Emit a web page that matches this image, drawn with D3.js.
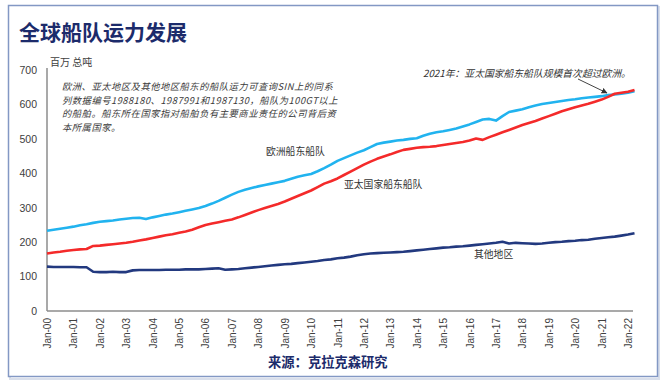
<!DOCTYPE html>
<html>
<head>
<meta charset="utf-8">
<script src="https://cdn.jsdelivr.net/npm/d3@7"></script>
<style>
  body { margin: 0; background: #fff; }
  svg { display: block; font-family: "Liberation Sans", Arial, sans-serif; }
  .cjk { font-family: "Noto Sans CJK SC", "Liberation Sans", sans-serif; }
</style>
</head>
<body>
<div id="chart"></div>
<script>
// quarterly readings, Jan-2000 .. Apr-2022 (million GT)
var startYear = 2000;
var tickYears = d3.range(2000, 2023);

var europe = [
  233, 236, 239, 242,  245, 249, 252, 256,  259, 261, 263, 266,  268, 270, 271, 267,
  272, 276, 280, 283,  287, 291, 295, 299,  305, 312, 320, 329,  338, 346, 352, 357,
  362, 366, 370, 374,  378, 384, 390, 394,  398, 406, 415, 425,  436, 444, 452, 460,
  467, 476, 485, 489,  492, 495, 497, 500,  502, 509, 515, 519,  522, 526, 530, 536,
  542, 549, 556, 558,  553, 566, 578, 582,  586, 592, 597, 601,  604, 607, 610, 613,
  615, 618, 620, 622,  624, 627, 629, 631,  634, 638
];
var asiaPacific = [
  167, 170, 172, 175,  177, 179, 180, 189,  190, 192, 194, 196,  198, 201, 205, 208,
  212, 216, 220, 223,  227, 231, 236, 243,  250, 254, 258, 262,  266, 272, 279, 286,
  293, 299, 305, 311,  318, 326, 334, 342,  350, 360, 370, 377,  385, 395, 405, 415,
  425, 434, 442, 449,  455, 462, 468, 471,  474, 476, 477, 479,  482, 485, 488, 491,
  495, 501, 497, 505,  512, 519, 526, 533,  540, 546, 552, 559,  566, 573, 580, 586,
  592, 597, 602, 608,  614, 622, 631, 634,  637, 642
];
var otherRegions = [
  129, 128, 128, 128,  128, 127, 127, 114,  113, 113, 114, 113,  113, 118, 119, 119,
  119, 119, 120, 120,  120, 121, 121, 121,  122, 123, 124, 120,  121, 122, 124, 126,
  128, 130, 132, 134,  136, 137, 139, 141,  143, 145, 148, 150,  153, 155, 158, 162,
  165, 167, 168, 169,  170, 171, 172, 174,  176, 178, 180, 182,  184, 185, 187, 188,
  190, 192, 194, 196,  198, 201, 196, 198,  197, 196, 195, 196,  198, 200, 201, 203,
  204, 206, 207, 210,  212, 214, 216, 219,  222, 226
];
var yTicks = [0, 100, 200, 300, 400, 500, 600, 700];

var seriesList = [
  {name: "欧洲船东船队", values: europe, colour: "#21b3ef"},
  {name: "亚太国家船东船队", values: asiaPacific, colour: "#f42a2a"},
  {name: "其他地区", values: otherRegions, colour: "#22397f"}
];

var noteLines = [
  "欧洲、亚太地区及其他地区船东的船队运力可查询SIN上的同系",
  "列数据编号1988180、1987991和1987130，船队为100GT以上",
  "的船舶。船东所在国家指对船舶负有主要商业责任的公司背后资",
  "本所属国家。"
];

var width = 670, height = 380;

var svg = d3.select("#chart").append("svg")
    .attr("width", width)
    .attr("height", height);

// frame
svg.append("rect")
    .attr("x", 10).attr("y", 7)
    .attr("width", 649).attr("height", 372)
    .attr("fill", "none").attr("stroke", "#d9dfeb").attr("stroke-width", 2);
svg.append("rect")
    .attr("x", 8.5).attr("y", 5.5)
    .attr("width", 649).attr("height", 371)
    .attr("fill", "#fff").attr("stroke", "#8398c4").attr("stroke-width", 1.5);

var x_scale = d3.scaleTime()
    .domain([new Date(2000, 0, 1), new Date(2022, 0, 1)])
    .range([47, 628]);
var y_scale = d3.scaleLinear()
    .domain([0, 700])
    .range([311, 70]);

function quarterDate(i) {
  return new Date(startYear + Math.floor(i / 4), (i % 4) * 3, 1);
}

// title
svg.append("text")
    .attr("class", "cjk")
    .attr("x", 19).attr("y", 40)
    .attr("font-size", 21).attr("font-weight", "bold")
    .attr("fill", "#1c2b6b")
    .text("全球船队运力发展");

svg.append("text")
    .attr("class", "cjk")
    .attr("x", 50).attr("y", 66)
    .attr("font-size", 10).attr("fill", "#404040")
    .text("百万 总吨");

// axes
var y_axis = d3.axisLeft(y_scale).tickValues(yTicks).tickSize(0).tickPadding(10);
var gy = svg.append("g")
    .attr("transform", "translate(" + x_scale.range()[0] + ",0)")
    .call(y_axis);
gy.select(".domain").attr("stroke", "#8c8c8c").attr("stroke-width", 1.5)
    .attr("d", "M0," + (y_scale(700) - 2) + "V" + y_scale(0));
gy.selectAll("text")
    .attr("font-size", 10.5).attr("fill", "#404040")
    .attr("font-family", "Liberation Sans, Arial, sans-serif");

var x_axis = d3.axisBottom(x_scale)
    .tickValues(tickYears.map(function(y){ return new Date(y, 0, 1); }))
    .tickFormat(d3.timeFormat("Jan-%y"))
    .tickSize(0);
var gx = svg.append("g")
    .attr("transform", "translate(0," + y_scale(0) + ")")
    .call(x_axis);
gx.select(".domain").attr("stroke", "#8c8c8c").attr("stroke-width", 1.5)
    .attr("d", "M" + x_scale.range()[0] + ",0H633");
gx.selectAll("text")
    .attr("font-size", 10).attr("fill", "#404040")
    .attr("font-family", "Liberation Sans, Arial, sans-serif")
    .style("text-anchor", "end")
    .attr("dx", "-7")
    .attr("dy", "0.35em")
    .attr("y", 0)
    .attr("transform", "rotate(-90)");

// lines
var line = d3.line()
    .x(function(d, i){ return x_scale(quarterDate(i)); })
    .y(function(d){ return y_scale(d); });

svg.selectAll("path.series")
    .data(seriesList)
    .enter()
    .append("path")
    .attr("class", "series")
    .attr("fill", "none")
    .attr("stroke", function(d){ return d.colour; })
    .attr("stroke-width", 2.6)
    .attr("stroke-linejoin", "round")
    .attr("d", function(d){ return line(d.values); });

// note
svg.append("g").selectAll("text")
    .data(noteLines)
    .enter()
    .append("text")
    .attr("class", "cjk")
    .attr("x", 62)
    .attr("y", function(d, i){ return 90 + i * 13.6; })
    .attr("font-size", 9.3)
    .attr("letter-spacing", 0.5)
    .attr("font-style", "italic")
    .attr("fill", "#3a3a3a")
    .text(function(d){ return d; });

// series labels
var labels = [
  {text: "欧洲船东船队", x: 266, y: 155},
  {text: "亚太国家船东船队", x: 344, y: 188},
  {text: "其他地区", x: 474, y: 258}
];
svg.append("g").selectAll("text")
    .data(labels)
    .enter()
    .append("text")
    .attr("class", "cjk")
    .attr("x", function(d){ return d.x; })
    .attr("y", function(d){ return d.y; })
    .attr("font-size", 9.8)
    .attr("fill", "#333")
    .text(function(d){ return d.text; });

// 2021 annotation
svg.append("defs").append("marker")
    .attr("id", "arrow")
    .attr("viewBox", "0 0 10 10")
    .attr("refX", 9).attr("refY", 5)
    .attr("markerWidth", 6).attr("markerHeight", 6)
    .attr("orient", "auto")
    .append("path")
    .attr("d", "M0,0L10,5L0,10z")
    .attr("fill", "#333");

svg.append("text")
    .attr("class", "cjk")
    .attr("x", 423).attr("y", 77)
    .attr("font-size", 9.8)
    .attr("font-style", "italic")
    .attr("fill", "#333")
    .text("2021年：亚太国家船东船队规模首次超过欧洲。");

svg.append("line")
    .attr("x1", 578).attr("y1", 79)
    .attr("x2", 607).attr("y2", 93)
    .attr("stroke", "#444").attr("stroke-width", 1)
    .attr("marker-end", "url(#arrow)");

// source
svg.append("text")
    .attr("class", "cjk")
    .attr("x", 268).attr("y", 367)
    .attr("font-size", 13.3).attr("font-weight", "bold")
    .attr("fill", "#1c2b6b")
    .text("来源：克拉克森研究");
</script>
</body>
</html>
